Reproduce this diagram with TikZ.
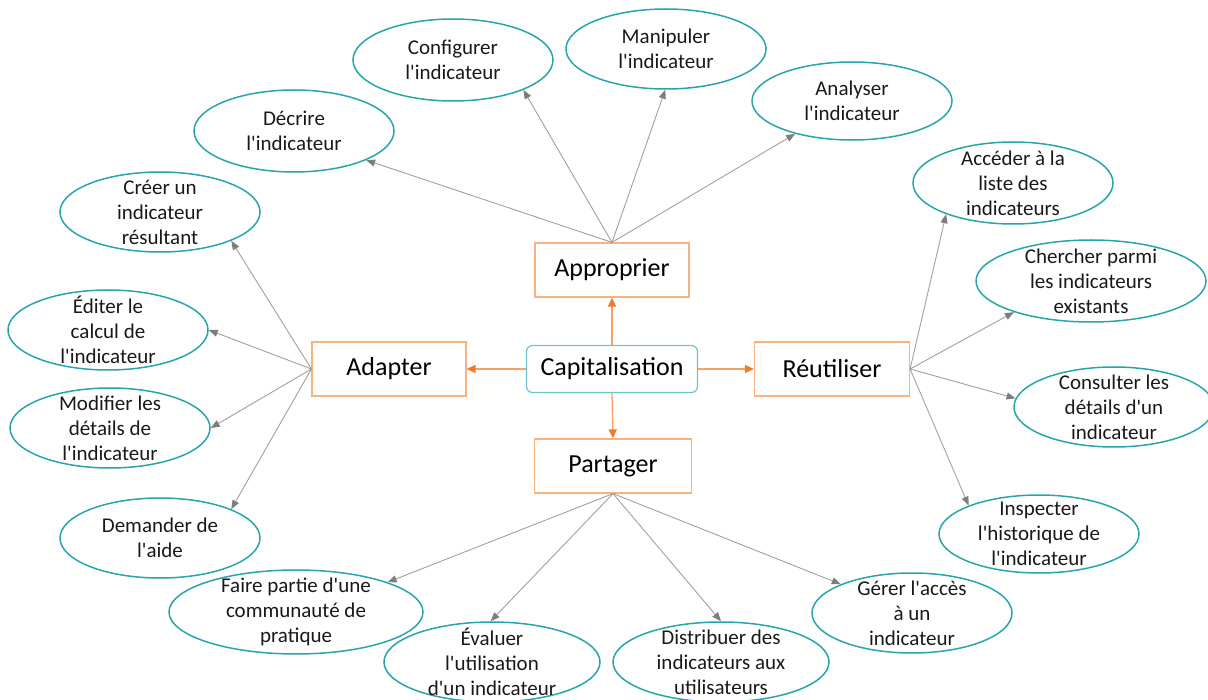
\documentclass[tikz,border=0pt]{standalone}
\usepackage{fontspec}
\setmainfont{Carlito}
\usetikzlibrary{arrows.meta,shapes.geometric}
\definecolor{ucteal}{RGB}{40,164,170}
\definecolor{capb}{RGB}{110,195,200}
\definecolor{rectb}{RGB}{248,178,128}
\definecolor{orline}{RGB}{246,160,100}
\definecolor{orhead}{RGB}{240,122,40}
\definecolor{gline}{RGB}{160,160,160}
\definecolor{ghead}{RGB}{125,125,125}
\newcommand\myq{\textquotesingle}
\begin{document}
\begin{tikzpicture}[x=1pt,y=-1pt,
 uc/.style={ellipse, draw=ucteal, line width=1.5pt, inner sep=0pt, minimum width=200pt, minimum height=80pt},
 uct/.style={align=center, font=\fontsize{21}{25}\selectfont, text=black!90, inner sep=0pt},
 box/.style={draw=rectb, line width=1.2pt, minimum width=154pt, minimum height=54pt, font=\fontsize{26}{30}\selectfont},
 capbox/.style={draw=capb, rounded corners=6pt, line width=1.2pt, minimum width=171pt, minimum height=47pt, font=\fontsize{26}{30}\selectfont},
 oarr/.style={draw=orline, line width=1.3pt, -{Triangle[length=9pt,width=8pt,color=orhead]}},
 garr/.style={draw=gline, line width=0.9pt, -{Triangle[length=9pt,width=7pt,color=ghead]}}]
\useasboundingbox (0,0) rectangle (1208,700);

% central boxes
\node[capbox] (cap) at (612,369) {Capitalisation};
\node[box] (app) at (612,270) {Approprier};
\node[box] (ada) at (389,369) {Adapter};
\node[box, minimum width=155pt] (reu) at (832,369) {Réutiliser};
\node[box, minimum width=157pt] (par) at (613,466) {Partager};

\draw[oarr] (cap.north) -- (app.south);
\draw[oarr] (cap.west) -- (ada.east);
\draw[oarr] (cap.east) -- (reu.west);
\draw[oarr] (cap.south) -- (par.north);

% top ellipses
\node[uc, minimum height=82pt] (dec) at (294,131) {};
\node[uct] (dect) at (dec) {Décrire\\l\myq indicateur};
\node[uc, minimum height=82pt] (con) at (453,60) {};
\node[uct] (cont) at (con) {Configurer\\l\myq indicateur};
\node[uc] (man) at (666,49) {};
\node[uct] (mant) at (man) {Manipuler\\l\myq indicateur};
\node[uc, minimum height=78pt] (ana) at (852,101) {};
\node[uct] (anat) at (ana) {Analyser\\l\myq indicateur};

% left ellipses
\node[uc] (cre) at (160,212) {};
\node[uct] (cret) at (cre) {Créer un\\indicateur\\résultant};
\node[uc] (edi) at (108,330) {};
\node[uct] (edit) at (edi) {Éditer le\\calcul de\\l\myq indicateur};
\node[uc] (mod) at (110,428) {};
\node[uct] (modt) at (mod) {Modifier les\\détails de\\l\myq indicateur};
\node[uc] (dem) at (160,538) {};
\node[uct] (demt) at (dem) {Demander de\\l\myq aide};

% right ellipses
\node[uc, minimum height=82pt] (acc) at (1013,183) {};
\node[uct] (acct) at (acc) {Accéder à la\\liste des\\indicateurs};
\node[uc, minimum width=230pt, minimum height=82pt] (che) at (1091,281) {};
\node[uct] (chet) at (che) {Chercher parmi\\les indicateurs\\existants};
\node[uc] (cons) at (1114,407) {};
\node[uct] (const) at (cons) {Consulter les\\détails d\myq un\\indicateur};
\node[uc, minimum height=78pt] (ins) at (1039,534) {};
\node[uct] (inst) at (ins) {Inspecter\\l\myq historique de\\l\myq indicateur};

% bottom ellipses
\node[uc, minimum width=254pt, minimum height=84pt] (fai) at (296,612) {};
\node[uct] (fait) at (fai) {Faire partie d\myq une\\communauté de\\pratique};
\node[uc, minimum width=216pt] (eva) at (492,662) {};
\node[uct] (evat) at (eva) {Évaluer\\l\myq utilisation\\d\myq un indicateur};
\node[uc, minimum width=216pt] (dis) at (721,662) {};
\node[uct] (dist) at (dis) {Distribuer des\\indicateurs aux\\utilisateurs};
\node[uc] (ger) at (912,613) {};
\node[uct] (gert) at (ger) {Gérer l\myq accès\\à un\\indicateur};

% gray connectors
\draw[garr] (app.north) -- (dec.-22);
\draw[garr] (app.north) -- (con.-23);
\draw[garr] (app.north) -- (man.-91);
\draw[garr] (app.north) -- (ana.-150);

\draw[garr] (ada.west) -- (cre.-22);
\draw[garr] (ada.west) -- (edi.0);
\draw[garr] (ada.west) -- (mod.0);
\draw[garr] (ada.west) -- (dem.22);

\draw[garr] (reu.east) -- (acc.-155);
\draw[garr] (reu.east) -- (che.-158);
\draw[garr] (reu.east) -- (cons.175);
\draw[garr] (reu.east) -- (ins.158);

\draw[garr] (par.south) -- (fai.18);
\draw[garr] (par.south) -- (eva.92);
\draw[garr] (par.south) -- (dis.90);
\draw[garr] (par.south) -- (ger.158);
\end{tikzpicture}
\end{document}
